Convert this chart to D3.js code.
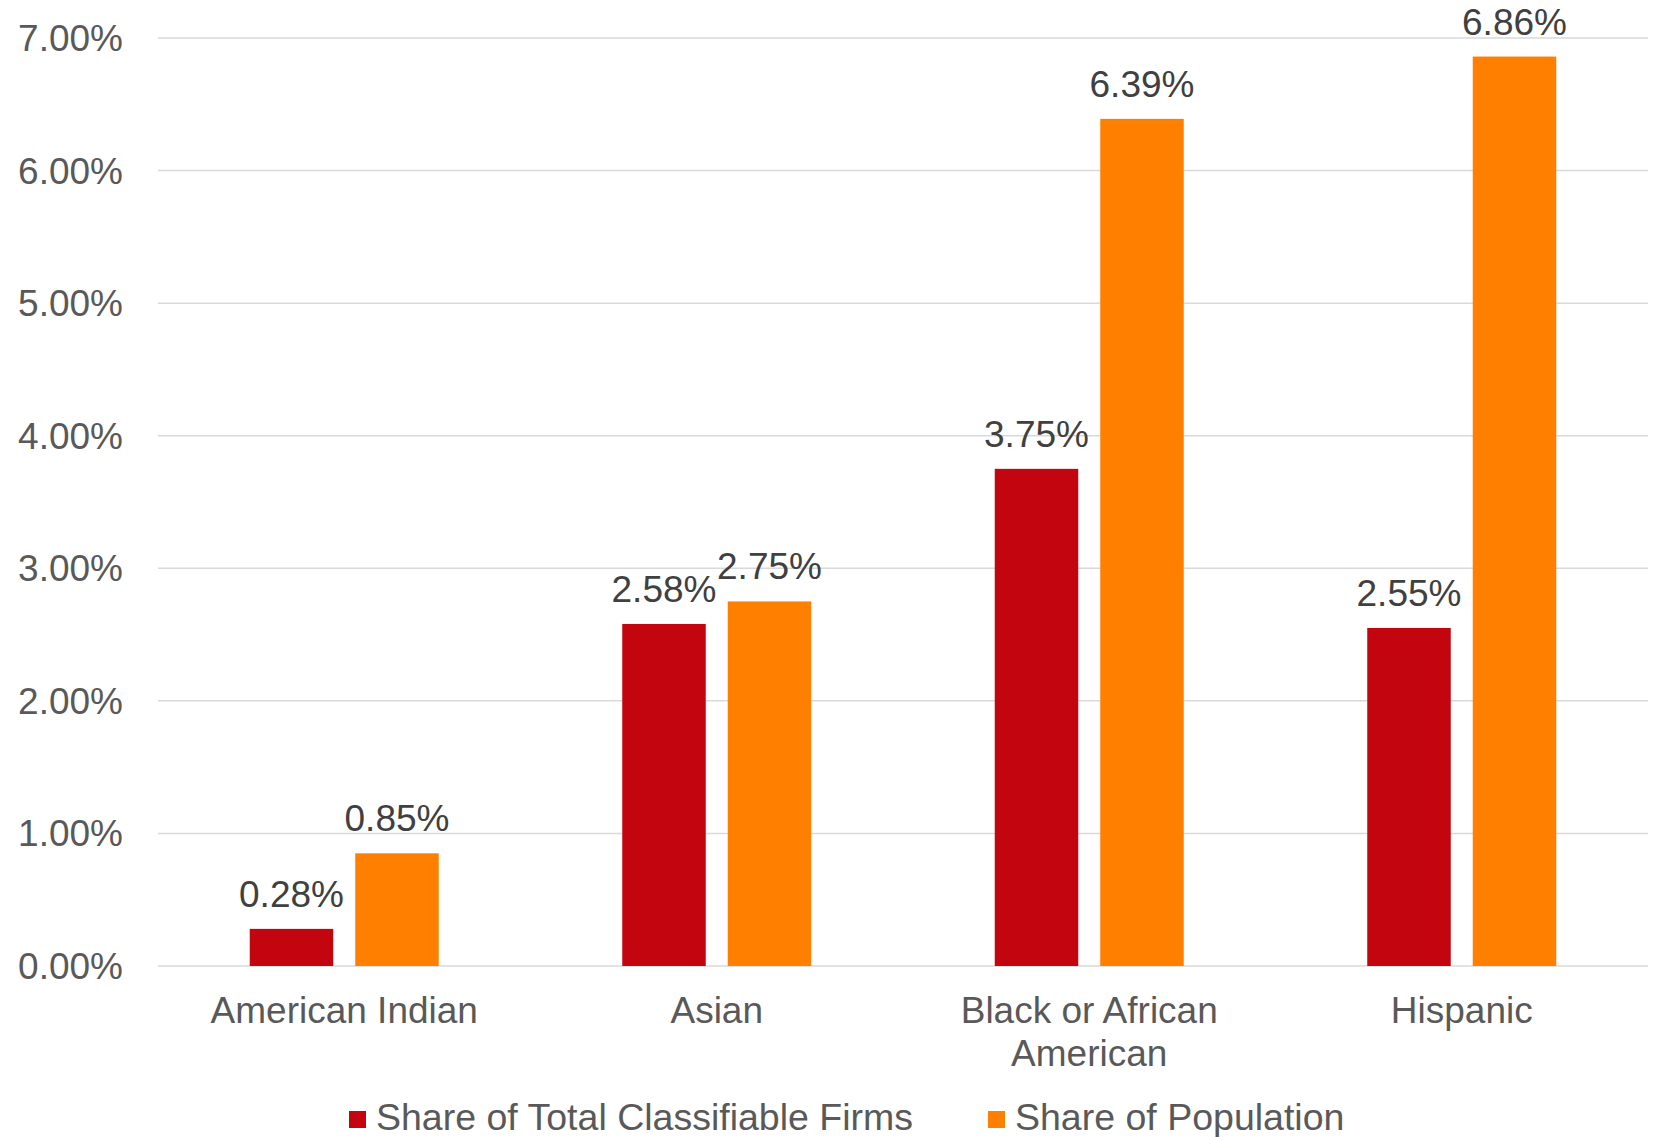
<!DOCTYPE html>
<html>
<head>
<meta charset="utf-8">
<script src="https://cdn.jsdelivr.net/npm/d3@7"></script>
<style>
  html, body { margin: 0; padding: 0; background: #fff; }
  text { font-family: "Liberation Sans", Arial, sans-serif; }
</style>
</head>
<body>
<script>
// chart data
const categories = [["American Indian"], ["Asian"], ["Black or African", "American"], ["Hispanic"]];
const seriesNames = ["Share of Total Classifiable Firms", "Share of Population"];
const firms = [0.28, 2.58, 3.75, 2.55];
const population = [0.85, 2.75, 6.39, 6.86];
const yTicks = [0, 1, 2, 3, 4, 5, 6, 7];

const width = 1657;
const height = 1137;
const colors = ["#C3050F", "#FF8000"];

const svg = d3.select("body").append("svg")
  .attr("width", width)
  .attr("height", height);

const catKeys = categories.map(c => c.join(" "));

const x0 = d3.scaleBand()
  .domain(catKeys)
  .range([158, 1648])
  .paddingInner(0)
  .paddingOuter(0);

const bw = x0.bandwidth();
const x1 = d3.scaleBand()
  .domain(seriesNames)
  .range([bw / 2 - 94.5, bw / 2 + 94.5])
  .paddingInner(0.2085);

const y = d3.scaleLinear()
  .domain([0, 7])
  .range([966, 38]);

// gridlines
svg.append("g")
  .selectAll("line")
  .data(yTicks)
  .enter().append("line")
  .attr("x1", 158)
  .attr("x2", 1648)
  .attr("y1", d => y(d))
  .attr("y2", d => y(d))
  .attr("stroke", "#D9D9D9")
  .attr("stroke-width", 1.5);

// y tick labels
svg.append("g")
  .selectAll("text")
  .data(yTicks)
  .enter().append("text")
  .attr("x", 123)
  .attr("y", d => y(d))
  .attr("dy", "0.35em")
  .attr("text-anchor", "end")
  .attr("font-size", 37)
  .attr("fill", "#595959")
  .text(d => d3.format(".2f")(d) + "%");

const rows = catKeys.map((k, i) => ({ key: k, vals: [firms[i], population[i]] }));

const groups = svg.append("g")
  .selectAll("g")
  .data(rows)
  .enter().append("g")
  .attr("transform", d => `translate(${x0(d.key)},0)`);

groups.selectAll("rect")
  .data(d => d.vals.map((v, j) => ({ name: seriesNames[j], v: v, j: j })))
  .enter().append("rect")
  .attr("x", d => x1(d.name))
  .attr("width", x1.bandwidth())
  .attr("y", d => y(d.v))
  .attr("height", d => y(0) - y(d.v))
  .attr("fill", d => colors[d.j]);

groups.selectAll("text.lbl")
  .data(d => d.vals.map((v, j) => ({ name: seriesNames[j], v: v })))
  .enter().append("text")
  .attr("class", "lbl")
  .attr("x", d => x1(d.name) + x1.bandwidth() / 2)
  .attr("y", d => y(d.v) - 22)
  .attr("text-anchor", "middle")
  .attr("font-size", 37)
  .attr("fill", "#404040")
  .text(d => d.v.toFixed(2) + "%");

// category labels
const catLabels = svg.append("g")
  .selectAll("text")
  .data(categories)
  .enter().append("text")
  .attr("x", (d, i) => x0(catKeys[i]) + bw / 2)
  .attr("y", 1023)
  .attr("text-anchor", "middle")
  .attr("font-size", 37)
  .attr("fill", "#595959");

catLabels.selectAll("tspan")
  .data(d => d)
  .enter().append("tspan")
  .attr("x", function() { return d3.select(this.parentNode).attr("x"); })
  .attr("dy", (d, i) => i === 0 ? 0 : 43)
  .text(d => d);

// legend
const legendX = [349, 988];
const legend = svg.append("g")
  .selectAll("g")
  .data(seriesNames)
  .enter().append("g")
  .attr("transform", (d, i) => `translate(${legendX[i]},1111)`);

legend.append("rect")
  .attr("width", 17)
  .attr("height", 17)
  .attr("fill", (d, i) => colors[i]);

legend.append("text")
  .attr("x", 27)
  .attr("y", 19)
  .attr("font-size", 37.5)
  .attr("fill", "#595959")
  .text(d => d);
</script>
</body>
</html>
